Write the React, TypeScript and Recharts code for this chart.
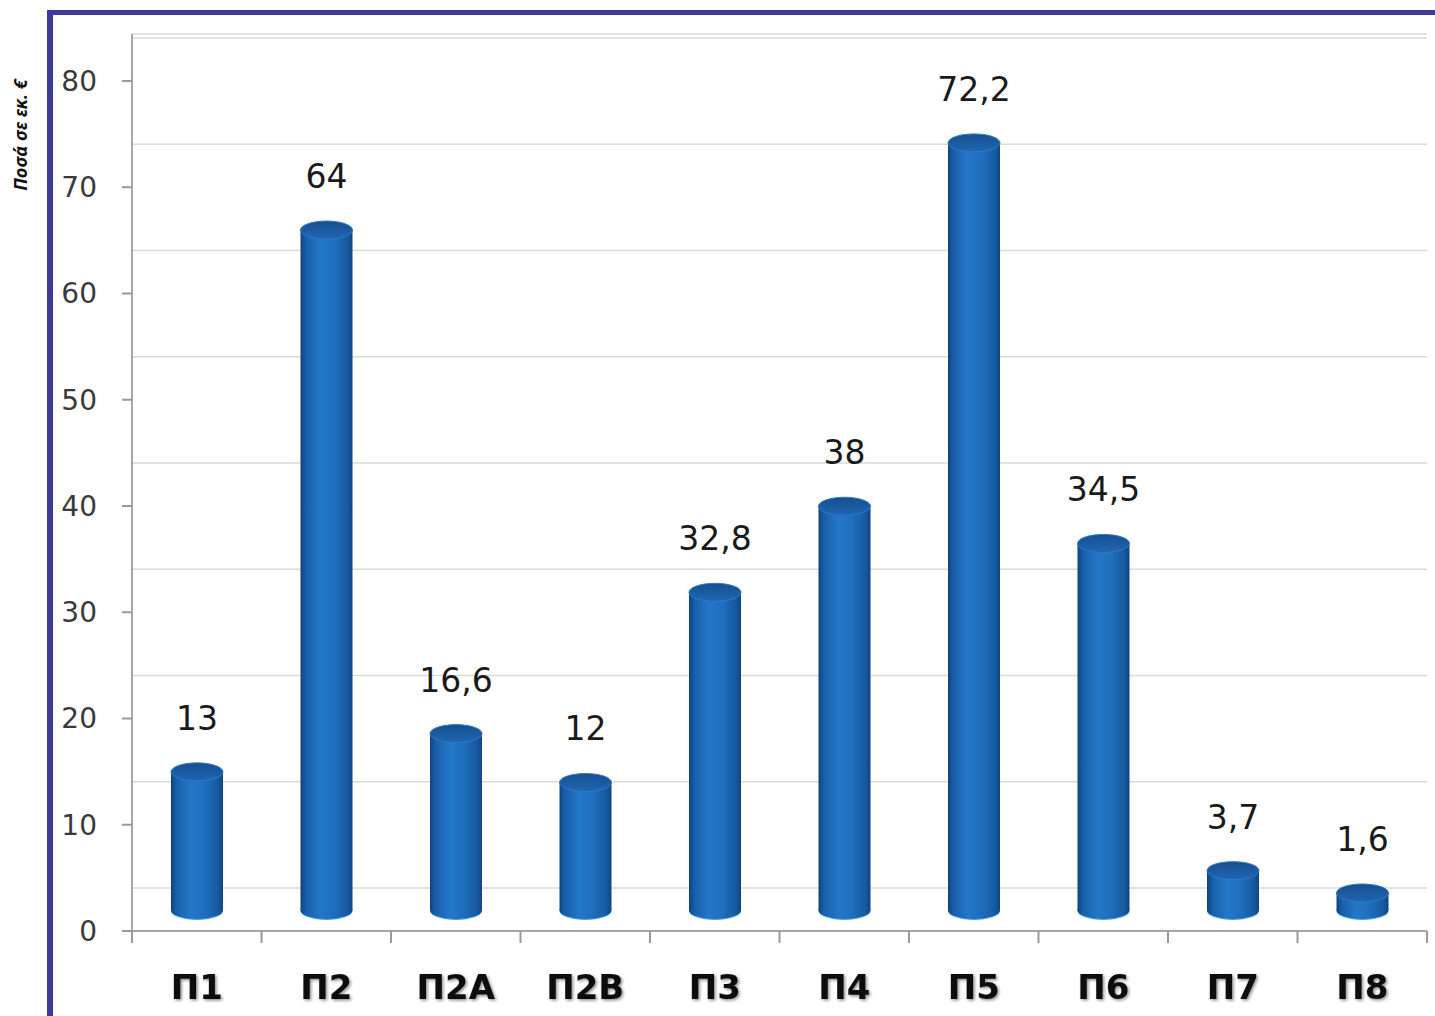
import { BarChart, Bar, XAxis, YAxis, CartesianGrid, LabelList } from "recharts";

const categories = ["Π1", "Π2", "Π2Α", "Π2Β", "Π3", "Π4", "Π5", "Π6", "Π7", "Π8"];
// heights as drawn in the picture (Π3 is drawn lower than its label)
const barHeights = [13, 64, 16.6, 12, 29.9, 38, 72.2, 34.5, 3.7, 1.6];
const valueLabels = ["13", "64", "16,6", "12", "32,8", "38", "72,2", "34,5", "3,7", "1,6"];
const yTicks = [0, 10, 20, 30, 40, 50, 60, 70, 80];

const data = categories.map((name, i) => ({
  name,
  height: barHeights[i],
  label: valueLabels[i],
}));

const Cylinder = (props: any) => {
  const { x, y, width, height, index } = props;
  if (!width || height == null) return null;
  const rx = width / 2;
  const ry = 9;
  const cx = x + rx;
  const bottom = y + height;
  const bodyId = `cylBody${index}`;
  const topId = `cylTop${index}`;
  return (
    <g>
      <defs>
        <linearGradient id={bodyId} x1="0" y1="0" x2="1" y2="0">
          <stop offset="0%" stopColor="#0e437d" />
          <stop offset="10%" stopColor="#185ea8" />
          <stop offset="38%" stopColor="#2477c8" />
          <stop offset="65%" stopColor="#1f6ebd" />
          <stop offset="90%" stopColor="#175a9f" />
          <stop offset="100%" stopColor="#0f457f" />
        </linearGradient>
        <linearGradient id={topId} x1="0" y1="0" x2="0" y2="1">
          <stop offset="0%" stopColor="#174f8e" />
          <stop offset="100%" stopColor="#1f66b2" />
        </linearGradient>
      </defs>
      <ellipse cx={cx} cy={bottom + 1} rx={rx} ry={ry} fill="#45a6ea" />
      <ellipse cx={cx} cy={bottom} rx={rx} ry={ry} fill={`url(#${bodyId})`} />
      <rect x={x} y={y} width={width} height={height} fill={`url(#${bodyId})`} />
      <ellipse cx={cx} cy={y} rx={rx} ry={ry} fill={`url(#${topId})`} stroke="#2c7acb" strokeWidth={1} />
    </g>
  );
};

const ValueLabel = (props: any) => {
  const { x, y, width, value } = props;
  return (
    <text
      x={x + width / 2}
      y={y - 42}
      textAnchor="middle"
      fontFamily="DejaVu Sans"
      fontSize={33}
      fill="#1a1a1a"
    >
      {value}
    </text>
  );
};

// category label plus the tick marks at the category boundaries
const CategoryTick = (props: any) => {
  const { x, y, payload, index } = props;
  const half = payload.offset || 0;
  const axisY = y - 20;
  const fid = `shadow${index}`;
  return (
    <g>
      <defs>
        <filter id={fid} x="-20%" y="-20%" width="140%" height="140%">
          <feDropShadow dx="1.5" dy="1.5" stdDeviation="1.5" floodColor="#000" floodOpacity="0.45" />
        </filter>
      </defs>
      <line x1={x - half} y1={axisY} x2={x - half} y2={axisY + 12} stroke="#999" strokeWidth={2} />
      {index === categories.length - 1 && (
        <line x1={x + half} y1={axisY} x2={x + half} y2={axisY + 12} stroke="#999" strokeWidth={2} />
      )}
      <text
        x={x}
        y={y + 48}
        textAnchor="middle"
        fontFamily="DejaVu Sans"
        fontWeight="bold"
        fontSize={34}
        fill="#111"
        filter={`url(#${fid})`}
      >
        {payload.value}
      </text>
    </g>
  );
};

export default function App() {
  return (
    <div
      style={{
        position: "absolute",
        left: 0,
        top: 0,
        width: 1435,
        height: 1016,
        background: "#fff",
        overflow: "hidden",
      }}
    >
      <div
        style={{
          position: "absolute",
          left: 47,
          top: 10,
          width: 1400,
          height: 1020,
          borderTop: "5px solid #3d3a99",
          borderLeft: "6px solid #3d3a99",
        }}
      />
      <div
        style={{
          position: "absolute",
          left: 20,
          top: 135,
          transform: "translate(-50%, -50%) rotate(-90deg)",
          whiteSpace: "nowrap",
          fontFamily: "Noto Sans",
          fontWeight: "bold",
          fontStyle: "italic",
          fontSize: 18,
          color: "#111",
        }}
      >
        Ποσά σε εκ. €
      </div>
      <div style={{ position: "absolute", left: 0, top: 0 }}>
        <BarChart
          width={1435}
          height={1016}
          data={data}
          margin={{ top: 34, right: 8, left: 32, bottom: 0 }}
        >
          <CartesianGrid
            yAxisId="grid"
            xAxisId="cat"
            vertical={false}
            stroke="#d9d9d9"
            strokeWidth={1.5}
          />
          <XAxis
            xAxisId="cat"
            dataKey="name"
            height={85}
            axisLine={{ stroke: "#a6a6a6", strokeWidth: 2 }}
            tickLine={false}
            tickSize={0}
            tickMargin={20}
            interval={0}
            tick={<CategoryTick />}
          />
          <XAxis
            xAxisId="top"
            orientation="top"
            dataKey="name"
            height={0}
            axisLine={{ stroke: "#d9d9d9", strokeWidth: 2 }}
            tickLine={false}
            tick={false}
          />
          <YAxis
            yAxisId="main"
            type="number"
            domain={[0, 84.42]}
            ticks={yTicks}
            allowDataOverflow
            width={100}
            axisLine={{ stroke: "#a6a6a6", strokeWidth: 2 }}
            tickLine={{ stroke: "#999", strokeWidth: 2 }}
            tickSize={10}
            tickMargin={25}
            tick={{ fontFamily: "DejaVu Sans", fontSize: 28, fill: "#3a3a3a" }}
          />
          <YAxis
            yAxisId="grid"
            type="number"
            domain={[-4.05, 80.38]}
            ticks={yTicks}
            allowDataOverflow
            width={0}
            hide
          />
          <YAxis
            yAxisId="bar"
            type="number"
            domain={[-1.98, 82.45]}
            allowDataOverflow
            width={0}
            hide
          />
          <YAxis
            yAxisId="right"
            orientation="right"
            type="number"
            domain={[0, 10]}
            width={0}
            axisLine={{ stroke: "#d0d0d0", strokeWidth: 3 }}
            tickLine={false}
            tick={false}
          />
          <Bar
            xAxisId="cat"
            yAxisId="bar"
            dataKey="height"
            barSize={52}
            shape={<Cylinder />}
            isAnimationActive={false}
          >
            <LabelList dataKey="label" content={<ValueLabel />} />
          </Bar>
        </BarChart>
      </div>
    </div>
  );
}
